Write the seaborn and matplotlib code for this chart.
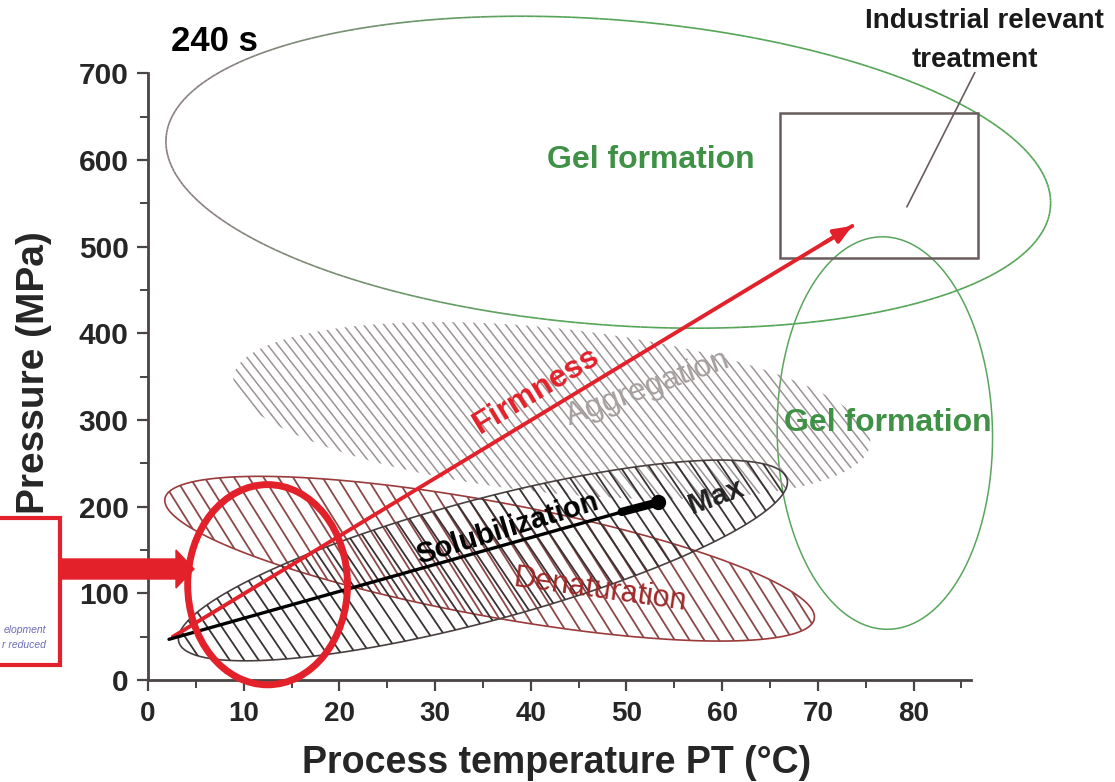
import numpy as np
import matplotlib
matplotlib.use("Agg")
import matplotlib.pyplot as plt
import seaborn as sns
from matplotlib.patches import Polygon, Rectangle, Ellipse, FancyArrow
from matplotlib.collections import LineCollection
from matplotlib.colors import to_rgb

# ---------------- data ----------------
# regions in the temperature / pressure plane
region_names = ["Gel formation (top)", "Gel formation (right)", "Aggregation",
                "Denaturation", "Solubilization"]
region_center_T = [48.1, 77.0, 42.2, 35.7, 35.0]     # °C
region_center_P = [586, 285, 311, 140, 138]           # MPa
region_span_T = [92.7, 22.5, 66.9, 69.0, 65.8]        # °C (along main axis)
region_span_P = [352, 453, 190, 132, 140]             # MPa (across)
region_tilt = [-4.5, 1.0, -6.0, -10.5, 15.0]          # degrees

# trends
firmness_T = [2.6, 73.6]
firmness_P = [50, 524]
solub_T = [2.2, 50.5]
solub_P = [47, 197]
max_T = [49.5, 53.3]
max_P = [194, 205]

# industrial relevant treatment window
box_T = [66.0, 86.7]
box_P = [486.7, 654]
pointer_T = [86.4, 79.3]
pointer_P = [701, 546]

# highlighted low temperature zone
circle_T, circle_P, circle_wT, circle_hP = 12.5, 110, 16.7, 231

x_ticks = list(range(0, 90, 10))
y_ticks = list(range(0, 800, 100))

# ---------------- style ----------------
sns.set_style("ticks")
plt.rcParams['font.family'] = ['Liberation Sans', 'DejaVu Sans']

fig = plt.figure(figsize=(11.15, 7.82), dpi=100)
ax = fig.add_axes([0.1327, 0.1304, 0.8583, 0.8555])
ax.set_xlim(0, 100)
ax.set_ylim(0, 772)

GREEN = '#3f9146'
GREY = '#8a7f7f'
RED = '#e3212b'
DRED = '#9c3a3a'


def ellipse_data(cT, cP, wT, hP, tilt, n=300):
    tr = ax.transData
    o = tr.transform((0, 0))
    sx = tr.transform((1, 0))[0] - o[0]
    sy = tr.transform((0, 1))[1] - o[1]
    c = tr.transform((cT, cP))
    a, b = wT * sx / 2, hP * sy / 2
    t = np.linspace(0, 2 * np.pi, n)
    u, v = a * np.cos(t), b * np.sin(t)
    th = np.deg2rad(tilt)
    X = c[0] + u * np.cos(th) - v * np.sin(th)
    Y = c[1] + u * np.sin(th) + v * np.cos(th)
    return tr.inverted().transform(np.column_stack([X, Y]))


def add_hatch(patch, angle, spacing, color, lw, phase=0.0):
    tr = ax.transData
    verts = tr.transform(patch.get_xy())
    x0, y0 = verts.min(0)
    x1, y1 = verts.max(0)
    cx, cy = (x0 + x1) / 2, (y0 + y1) / 2
    R = np.hypot(x1 - x0, y1 - y0) / 2 + 5
    th = np.deg2rad(angle)
    d = np.array([np.cos(th), np.sin(th)])
    nrm = np.array([-np.sin(th), np.cos(th)])
    segs = []
    for off in np.arange(-R + phase, R, spacing):
        p = np.array([cx, cy]) + nrm * off
        seg = np.array([p - d * R, p + d * R])
        segs.append(tr.inverted().transform(seg))
    lc = LineCollection(segs, colors=color, linewidths=lw, transform=tr)
    ax.add_collection(lc, autolim=False)
    lc.set_clip_path(patch)
    return lc


# ---- top gel formation ellipse (grey -> green) ----
pts = ellipse_data(region_center_T[0], region_center_P[0], region_span_T[0],
                   region_span_P[0], region_tilt[0])
pix = ax.transData.transform(pts)
segs = np.stack([pts[:-1], pts[1:]], axis=1)
mid = (pix[:-1, 0] + pix[1:, 0]) / 2
tt = np.clip((mid - 220) / 320, 0, 1)[:, None]
cols = (1 - tt) * np.array(to_rgb(GREY)) + tt * np.array(to_rgb('#55a557'))
ax.add_collection(LineCollection(segs, colors=cols, linewidths=1.2, zorder=2), autolim=False)

# ---- right gel formation ellipse ----
pts = ellipse_data(region_center_T[1], region_center_P[1], region_span_T[1],
                   region_span_P[1], region_tilt[1])
ax.plot(pts[:, 0], pts[:, 1], color='#5aa55c', lw=1.1, zorder=2)

# ---- aggregation (grey hatch, no outline) ----
pts = ellipse_data(region_center_T[2], region_center_P[2], region_span_T[2],
                   region_span_P[2], region_tilt[2])
agg = Polygon(pts, closed=True, facecolor='none', edgecolor='none', lw=0)
ax.add_patch(agg)
add_hatch(agg, -52, 8.0, '#9c9494', 1.1).set_zorder(3)

# ---- denaturation (red-brown hatch) ----
pts = ellipse_data(region_center_T[3], region_center_P[3], region_span_T[3],
                   region_span_P[3], region_tilt[3])
den = Polygon(pts, closed=True, facecolor='none', edgecolor=DRED, lw=1.2, zorder=4)
ax.add_patch(den)
add_hatch(den, -58, 12.5, '#8c4848', 1.3, phase=4).set_zorder(4)

# ---- solubilization (black hatch) ----
pts = ellipse_data(region_center_T[4], region_center_P[4], region_span_T[4],
                   region_span_P[4], region_tilt[4])
sol = Polygon(pts, closed=True, facecolor='none', edgecolor='#4a4040', lw=1.2, zorder=5)
ax.add_patch(sol)
add_hatch(sol, -56, 12.0, '#3a3232', 1.3).set_zorder(5)

# ---- trend lines ----
sns.lineplot(x=firmness_T, y=firmness_P, color=RED, lw=2.8, ax=ax, zorder=7)
slope = (firmness_P[1] - firmness_P[0]) / (firmness_T[1] - firmness_T[0])
ax.annotate("", xy=(firmness_T[1], firmness_P[1]),
            xytext=(firmness_T[1] - 3, firmness_P[1] - 3 * slope),
            arrowprops=dict(arrowstyle="-|>,head_length=1.1,head_width=0.45",
                            color=RED, lw=2.8, shrinkA=0, shrinkB=0), zorder=7)

sns.lineplot(x=solub_T, y=solub_P, color='black', lw=2.4, ax=ax, zorder=7)
sns.lineplot(x=max_T, y=max_P, color='black', lw=6, ax=ax, zorder=7)
ax.plot([max_T[1]], [max_P[1]], marker='o', ms=10, color='black', zorder=7)

# ---- industrial relevant window ----
ax.add_patch(Rectangle((box_T[0], box_P[0]), box_T[1] - box_T[0], box_P[1] - box_P[0],
                       facecolor='none', edgecolor='#6a5c5c', lw=1.8, zorder=6,
                       clip_on=False))
ax.plot(pointer_T, pointer_P, color='#6a5c5c', lw=1.2, zorder=6, clip_on=False)

# ---- texts ----
ax.text(52.5, 600, "Gel formation", color=GREEN, fontsize=23, weight='bold',
        ha='center', va='center', zorder=8)
ax.text(77.3, 297, "Gel formation", color=GREEN, fontsize=23, weight='bold',
        ha='center', va='center', zorder=8)
ax.text(40.6, 334, "Firmness", color=RED, fontsize=23, weight='bold', rotation=31,
        rotation_mode='anchor', ha='center', va='center', zorder=8)
ax.text(52.2, 337, "Aggregation", color='#a8a0a0', fontsize=23, rotation=20,
        rotation_mode='anchor', ha='center', va='center', zorder=8)
ax.text(37.6, 175, "Solubilization", color='black', fontsize=21, weight='bold',
        rotation=17, rotation_mode='anchor', ha='center', va='center', zorder=8)
ax.text(59.4, 211, "Max", color='#222222', fontsize=21, weight='bold', rotation=20,
        rotation_mode='anchor', ha='center', va='center', zorder=8)
ax.text(47.2, 104, "Denaturation", color='#a02828', fontsize=22, rotation=-8,
        rotation_mode='anchor', ha='center', va='center', zorder=8)
ax.text(6.9, 737, "240 s", color='black', fontsize=25, weight='bold',
        ha='center', va='center', zorder=8)
ax.text(87.4, 761, "Industrial relevant", color='#1a1a1a', fontsize=20, weight='bold',
        ha='center', va='center', zorder=8, clip_on=False)
ax.text(86.4, 716, "treatment", color='#1a1a1a', fontsize=20, weight='bold',
        ha='center', va='center', zorder=8, clip_on=False)

# ---- red highlight circle ----
ax.add_patch(Ellipse((circle_T, circle_P), circle_wT, circle_hP, facecolor='none',
                     edgecolor=RED, lw=5, zorder=9, clip_on=False))

# ---- left annotation box and big arrow (figure inches) ----
fig.patches.append(Rectangle((-0.1, 1.17), 0.70, 1.47, facecolor='white', edgecolor=RED,
                             lw=3, transform=fig.dpi_scale_trans, figure=fig))
fig.text(0.46, 1.52, "elopment", transform=fig.dpi_scale_trans, ha='right', va='center',
         fontsize=7.5, style='italic', color='#6d6db8')
fig.text(0.46, 1.37, "r reduced", transform=fig.dpi_scale_trans, ha='right', va='center',
         fontsize=7.5, style='italic', color='#6d6db8')
fig.patches.append(FancyArrow(0.60, 2.13, 1.34, 0, width=0.20, head_width=0.38,
                              head_length=0.18, length_includes_head=True, color=RED,
                              transform=fig.dpi_scale_trans, figure=fig))

# ---- axes ----
for s in ['top', 'right']:
    ax.spines[s].set_visible(False)
for s in ['left', 'bottom']:
    ax.spines[s].set_color('#4a4444')
    ax.spines[s].set_linewidth(2)
ax.spines['left'].set_bounds(0, 700)
ax.spines['bottom'].set_bounds(0, 86)

ax.set_xticks(x_ticks)
ax.set_yticks(y_ticks)
ax.set_xticks(np.arange(5, 90, 10), minor=True)
ax.set_yticks(np.arange(50, 700, 100), minor=True)
ax.tick_params(axis='both', which='major', direction='out', length=8, width=1.6,
               color='#4a4444', pad=6)
ax.tick_params(axis='both', which='minor', direction='out', length=6, width=1.4,
               color='#4a4444')
ax.tick_params(axis='x', labelsize=20, pad=7)
ax.tick_params(axis='y', labelsize=21.5)
for lab in ax.get_xticklabels() + ax.get_yticklabels():
    lab.set_fontweight('bold')

ax.set_xlabel("Process temperature PT (°C)", fontsize=27, weight='bold')
ax.set_ylabel("Pressure (MPa)", fontsize=28, weight='bold')
ax.xaxis.set_label_coords(0.427, -0.097)
ax.yaxis.set_label_coords(-0.100, 0.46)
ax.patch.set_alpha(0)

fig.savefig("out.png", dpi=100)
